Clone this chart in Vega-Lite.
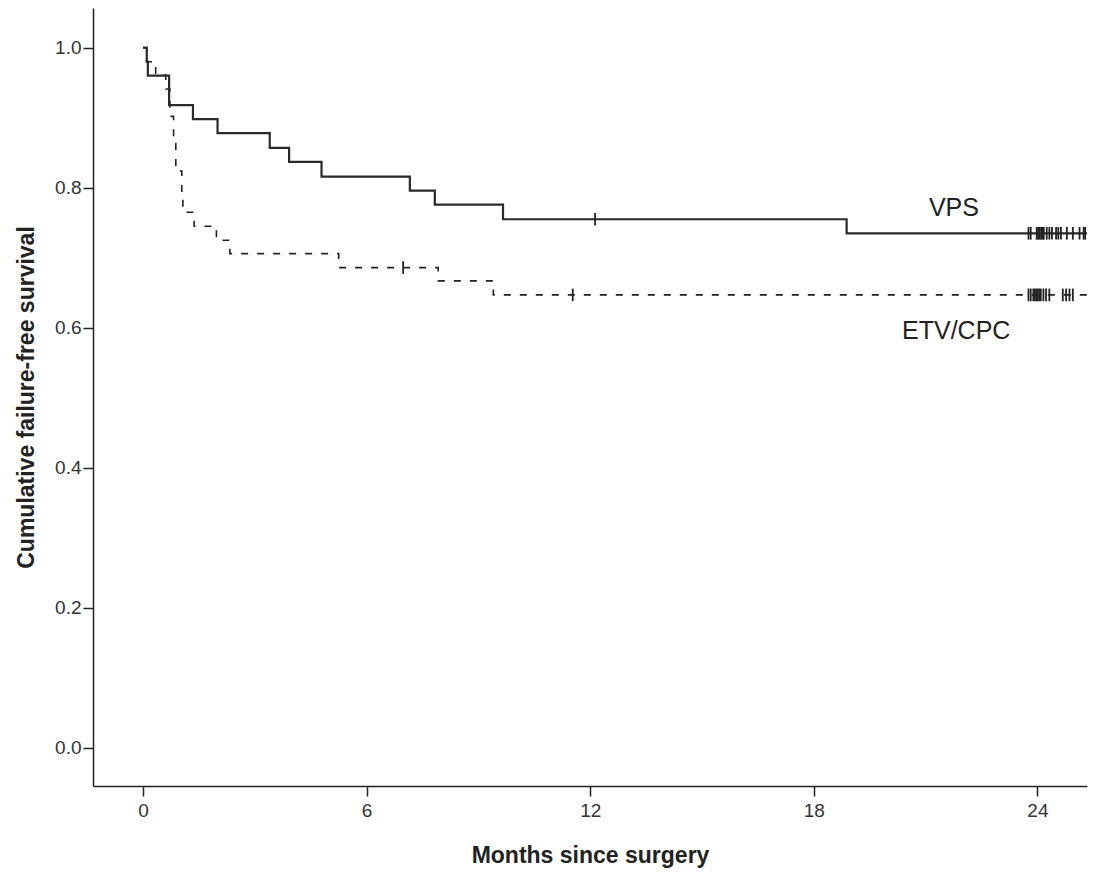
{
  "$schema": "https://vega.github.io/schema/vega-lite/v6.json",
  "autosize": {"type": "none"},
  "width": 994,
  "height": 778,
  "padding": {"left": 93, "top": 8, "right": 8, "bottom": 87},
  "background": "white",
  "config": {
    "view": {"stroke": null},
    "font": "Liberation Sans",
    "axis": {
      "grid": false,
      "domainColor": "#222",
      "domainWidth": 1.5,
      "tickColor": "#222",
      "tickWidth": 1.5,
      "tickSize": 10,
      "labelFont": "Liberation Sans",
      "labelFontSize": 19,
      "labelColor": "#333",
      "titleFont": "Liberation Sans",
      "titleFontSize": 23,
      "titleFontWeight": "bold",
      "titleColor": "#222"
    }
  },
  "datasets": {
    "curves": [
      {"group": "VPS", "month": 0, "surv": 1.0},
      {"group": "VPS", "month": 0.1, "surv": 0.98},
      {"group": "VPS", "month": 0.13, "surv": 0.96},
      {"group": "VPS", "month": 0.7, "surv": 0.918},
      {"group": "VPS", "month": 1.34, "surv": 0.898},
      {"group": "VPS", "month": 2.0, "surv": 0.878},
      {"group": "VPS", "month": 3.4, "surv": 0.857},
      {"group": "VPS", "month": 3.92, "surv": 0.837},
      {"group": "VPS", "month": 4.79, "surv": 0.816},
      {"group": "VPS", "month": 7.16, "surv": 0.796},
      {"group": "VPS", "month": 7.83, "surv": 0.776},
      {"group": "VPS", "month": 9.66, "surv": 0.755},
      {"group": "VPS", "month": 18.88, "surv": 0.735},
      {"group": "VPS", "month": 25.33, "surv": 0.735},
      {"group": "ETV/CPC", "month": 0, "surv": 1.0},
      {"group": "ETV/CPC", "month": 0.1, "surv": 0.98},
      {"group": "ETV/CPC", "month": 0.34, "surv": 0.961},
      {"group": "ETV/CPC", "month": 0.61, "surv": 0.941},
      {"group": "ETV/CPC", "month": 0.72, "surv": 0.902},
      {"group": "ETV/CPC", "month": 0.82, "surv": 0.863},
      {"group": "ETV/CPC", "month": 0.88, "surv": 0.824},
      {"group": "ETV/CPC", "month": 1.04, "surv": 0.784},
      {"group": "ETV/CPC", "month": 1.07, "surv": 0.765},
      {"group": "ETV/CPC", "month": 1.37, "surv": 0.745},
      {"group": "ETV/CPC", "month": 1.97, "surv": 0.725},
      {"group": "ETV/CPC", "month": 2.33, "surv": 0.706},
      {"group": "ETV/CPC", "month": 5.25, "surv": 0.686},
      {"group": "ETV/CPC", "month": 7.92, "surv": 0.667},
      {"group": "ETV/CPC", "month": 9.4, "surv": 0.647},
      {"group": "ETV/CPC", "month": 25.33, "surv": 0.647}
    ],
    "censors": [
      {"group": "VPS", "month": 12.13, "surv": 0.755},
      {"group": "VPS", "month": 23.76, "surv": 0.735},
      {"group": "VPS", "month": 23.82, "surv": 0.735},
      {"group": "VPS", "month": 23.98, "surv": 0.735},
      {"group": "VPS", "month": 24.02, "surv": 0.735},
      {"group": "VPS", "month": 24.06, "surv": 0.735},
      {"group": "VPS", "month": 24.1, "surv": 0.735},
      {"group": "VPS", "month": 24.14, "surv": 0.735},
      {"group": "VPS", "month": 24.17, "surv": 0.735},
      {"group": "VPS", "month": 24.25, "surv": 0.735},
      {"group": "VPS", "month": 24.32, "surv": 0.735},
      {"group": "VPS", "month": 24.39, "surv": 0.735},
      {"group": "VPS", "month": 24.5, "surv": 0.735},
      {"group": "VPS", "month": 24.56, "surv": 0.735},
      {"group": "VPS", "month": 24.63, "surv": 0.735},
      {"group": "VPS", "month": 24.79, "surv": 0.735},
      {"group": "VPS", "month": 24.95, "surv": 0.735},
      {"group": "VPS", "month": 25.13, "surv": 0.735},
      {"group": "VPS", "month": 25.24, "surv": 0.735},
      {"group": "VPS", "month": 25.28, "surv": 0.735},
      {"group": "ETV/CPC", "month": 6.98, "surv": 0.686},
      {"group": "ETV/CPC", "month": 11.53, "surv": 0.647},
      {"group": "ETV/CPC", "month": 23.76, "surv": 0.647},
      {"group": "ETV/CPC", "month": 23.82, "surv": 0.647},
      {"group": "ETV/CPC", "month": 23.89, "surv": 0.647},
      {"group": "ETV/CPC", "month": 23.93, "surv": 0.647},
      {"group": "ETV/CPC", "month": 23.97, "surv": 0.647},
      {"group": "ETV/CPC", "month": 24.01, "surv": 0.647},
      {"group": "ETV/CPC", "month": 24.05, "surv": 0.647},
      {"group": "ETV/CPC", "month": 24.09, "surv": 0.647},
      {"group": "ETV/CPC", "month": 24.16, "surv": 0.647},
      {"group": "ETV/CPC", "month": 24.23, "surv": 0.647},
      {"group": "ETV/CPC", "month": 24.32, "surv": 0.647},
      {"group": "ETV/CPC", "month": 24.68, "surv": 0.647},
      {"group": "ETV/CPC", "month": 24.77, "surv": 0.647},
      {"group": "ETV/CPC", "month": 24.86, "surv": 0.647},
      {"group": "ETV/CPC", "month": 24.95, "surv": 0.647}
    ],
    "labels": [
      {"label": "VPS", "month": 21.76, "surv": 0.771},
      {"label": "ETV/CPC", "month": 21.82, "surv": 0.596}
    ]
  },
  "encoding": {
    "x": {
      "field": "month",
      "type": "quantitative",
      "scale": {"domain": [-1.342, 25.33], "nice": false, "zero": false},
      "axis": {"values": [0, 6, 12, 18, 24], "title": "Months since surgery", "titlePadding": 24, "labelPadding": 5}
    },
    "y": {
      "field": "surv",
      "type": "quantitative",
      "scale": {"domain": [-0.0543, 1.0567], "nice": false, "zero": false},
      "axis": {"values": [0, 0.2, 0.4, 0.6, 0.8, 1.0], "format": ".1f", "title": "Cumulative failure-free survival", "titlePadding": 16, "labelPadding": 2}
    }
  },
  "layer": [
    {
      "data": {"name": "curves"},
      "transform": [{"filter": "datum.group === 'ETV/CPC'"}],
      "mark": {"type": "line", "interpolate": "step-after", "color": "#222", "strokeWidth": 1.6, "strokeDash": [7, 9]}
    },
    {
      "data": {"name": "curves"},
      "transform": [{"filter": "datum.group === 'VPS'"}],
      "mark": {"type": "line", "interpolate": "step-after", "color": "#2a2a2a", "strokeWidth": 2.2}
    },
    {
      "data": {"name": "censors"},
      "mark": {"type": "point", "shape": "M0,-1L0,1", "size": 160, "filled": false, "color": "#222", "strokeWidth": 1.8, "opacity": 1}
    },
    {
      "data": {"name": "labels"},
      "mark": {"type": "text", "font": "Liberation Sans", "fontSize": 25, "color": "#222", "align": "center", "baseline": "middle"},
      "encoding": {"text": {"field": "label", "type": "nominal"}}
    }
  ]
}
